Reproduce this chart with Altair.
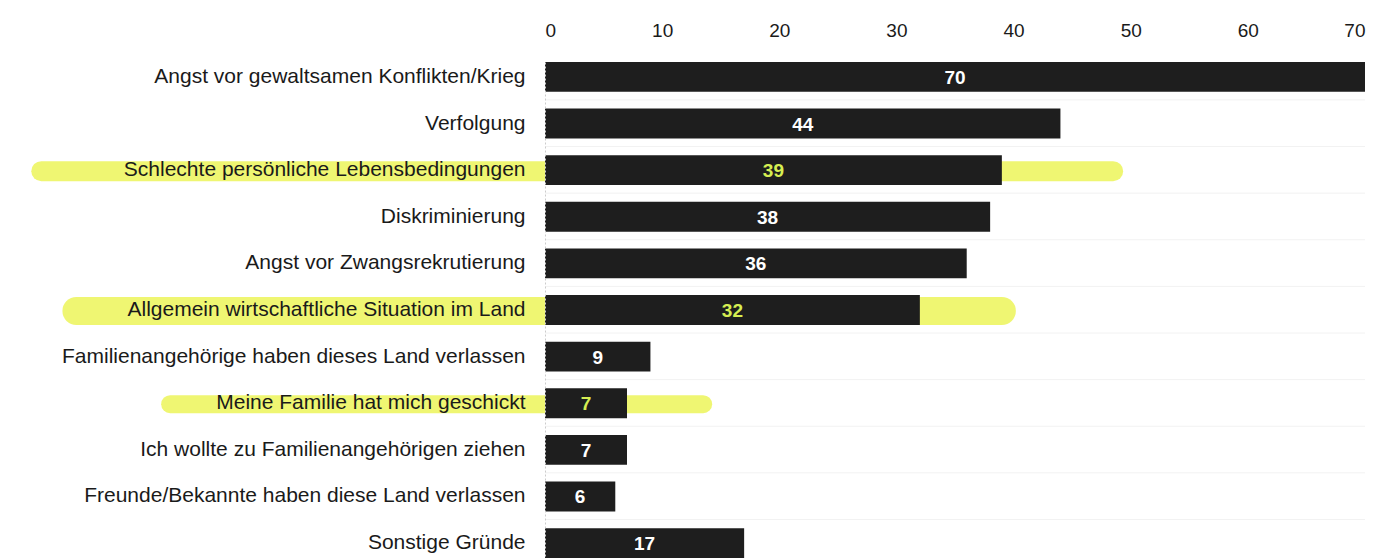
import altair as alt
import pandas as pd

categories = [
    "Angst vor gewaltsamen Konflikten/Krieg",
    "Verfolgung",
    "Schlechte persönliche Lebensbedingungen",
    "Diskriminierung",
    "Angst vor Zwangsrekrutierung",
    "Allgemein wirtschaftliche Situation im Land",
    "Familienangehörige haben dieses Land verlassen",
    "Meine Familie hat mich geschickt",
    "Ich wollte zu Familienangehörigen ziehen",
    "Freunde/Bekannte haben diese Land verlassen",
    "Sonstige Gründe",
]
values = [70, 44, 39, 38, 36, 32, 9, 7, 7, 6, 17]
highlighted = [False, False, True, False, False, True, False, True, False, False, False]

# hand-drawn highlighter strokes (in axis units)
hl_categories = [
    "Schlechte persönliche Lebensbedingungen",
    "Allgemein wirtschaftliche Situation im Land",
    "Meine Familie hat mich geschickt",
]
hl_start = [-43, -40, -32]
hl_end = [48.5, 39.0, 13.5]
hl_width = [20, 28, 18]

tick_values = [0, 10, 20, 30, 40, 50, 60, 70]

df = pd.DataFrame({"cat": categories, "value": values, "hl": highlighted})
df["half"] = df["value"] / 2
hl_df = pd.DataFrame({"cat": hl_categories, "start": hl_start, "end": hl_end, "w": hl_width})
grid_df = pd.DataFrame({"cat": categories, "x0": 0, "x1": 70})

FONT = "Liberation Sans"

y_enc = alt.Y(
    "cat:N",
    sort=categories,
    scale=alt.Scale(domain=categories, paddingInner=0.36, paddingOuter=0),
    axis=alt.Axis(
        title=None,
        labelFontSize=21,
        labelFont=FONT,
        labelColor="#1a1a1a",
        labelPadding=20,
        labelLimit=0,
        ticks=False,
        grid=False,
        domain=True,
        domainColor="#cccccc",
        domainDash=[2, 2],
        zindex=1,
    ),
)

x_scale = alt.Scale(domain=[0, 70], nice=False, zero=True)
x_axis = alt.Axis(
    orient="top",
    values=tick_values,
    title=None,
    labelFontSize=19,
    labelFont=FONT,
    labelColor="#1a1a1a",
    labelPadding=22,
    tickSize=0,
    ticks=False,
    domain=False,
    grid=False,
)

grid = alt.Chart(grid_df).mark_rule(color="#f2f2f2", strokeWidth=1, yOffset=23).encode(
    y=alt.Y("cat:N", sort=categories),
    x=alt.X("x0:Q", scale=x_scale, axis=x_axis),
    x2="x1:Q",
)

hl = alt.Chart(hl_df).mark_rule(
    color="#eef66a", strokeCap="round", clip=False, opacity=0.95, yOffset=1
).encode(
    y=alt.Y("cat:N", sort=categories),
    x=alt.X("start:Q", scale=x_scale),
    x2="end:Q",
    strokeWidth=alt.StrokeWidth("w:Q", scale=None, legend=None),
)

bars = alt.Chart(df).mark_bar(color="#1e1e1e").encode(
    y=y_enc,
    x=alt.X("value:Q", scale=x_scale, axis=x_axis),
)

labels = alt.Chart(df).mark_text(
    font=FONT, fontSize=19, fontWeight="bold", align="center", baseline="middle", dy=1
).encode(
    y=alt.Y("cat:N", sort=categories),
    x=alt.X("half:Q", scale=x_scale),
    text="value:Q",
    color=alt.condition(alt.datum.hl, alt.value("#d6ee52"), alt.value("#ffffff")),
)

chart = (
    alt.layer(grid, hl, bars, labels)
    .properties(
        width=820,
        height=496,
        autosize=alt.AutoSizeParams(type="none"),
        padding={"left": 537, "top": 54, "right": 20, "bottom": 0},
        background="#ffffff",
    )
    .configure_view(stroke=None)
)

chart.save("out.html", embed_options={"renderer": "svg", "actions": False})
